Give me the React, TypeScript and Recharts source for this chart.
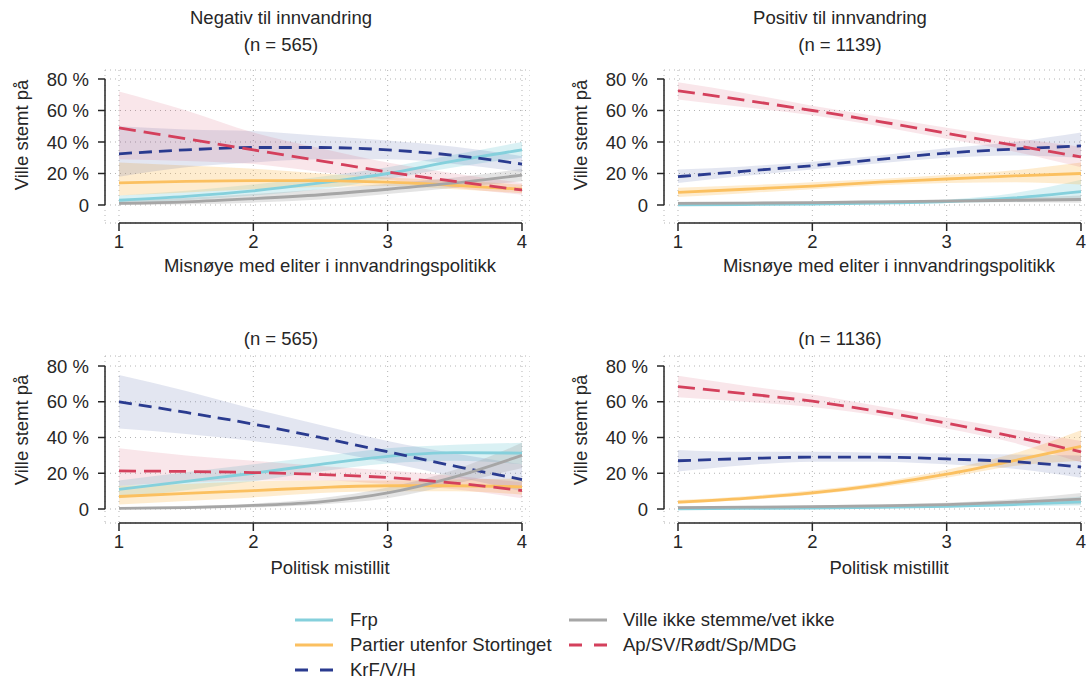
import {
  Area,
  CartesianGrid,
  ComposedChart,
  Line,
  ReferenceLine,
  XAxis,
  YAxis,
} from "recharts";

const FONT = '"Liberation Sans", Arial, Helvetica, sans-serif';
const INK = "#262626";

const xValues = [1, 1.5, 2, 2.5, 3, 3.5, 4];
const xTicks = [1, 2, 3, 4];
const yTicks = [0, 20, 40, 60, 80];

// every entry is [estimate, lower, upper] in percent, one per xValue

// Negativ til innvandring, misnøye med eliter
const negEliteFrp = [[3, 1, 6], [5.5, 3, 9], [9, 6, 13], [14, 10, 18], [20, 16.5, 24], [28, 24, 32], [35, 30, 40]];
const negElitePtu = [[14, 6, 27], [15, 8, 25], [15.5, 10, 23], [15.5, 11.5, 20], [14.5, 12, 17.5], [12.5, 10, 15.5], [10, 7.5, 13]];
const negEliteKrf = [[32.5, 18, 50], [35, 24, 48], [36.5, 27, 47], [36.5, 29, 44], [35, 29, 41], [31.5, 26, 37], [26, 21, 31]];
const negEliteVik = [[1, 0, 3], [2, 0.5, 4.5], [4, 1.5, 7], [6.5, 3.5, 10], [10, 7, 13.5], [14, 11, 17.5], [19, 15, 23]];
const negEliteAp = [[49, 29, 72], [42, 28, 60], [35, 26, 46], [28, 21, 36], [21, 16, 27], [15, 11, 20], [9.5, 6.5, 14]];

// Positiv til innvandring, misnøye med eliter
const posEliteFrp = [[0.1, 0, 0.5], [0.3, 0.1, 0.8], [0.6, 0.3, 1.2], [1.2, 0.7, 2], [2.2, 1.2, 3.5], [4.5, 2, 7.5], [8.5, 3, 16]];
const posElitePtu = [[8, 5, 11], [10, 7.5, 12.5], [12, 10, 14.5], [14.5, 12.5, 16.5], [16.5, 14, 19], [18.5, 14.5, 22], [20, 13, 27]];
const posEliteKrf = [[18, 14, 22.5], [21.5, 18.5, 24.5], [25, 22.5, 27.5], [29, 26.5, 31.5], [33, 30, 36], [35.5, 31.5, 40], [37.5, 30, 46]];
const posEliteVik = [[1, 0.3, 2], [1.2, 0.6, 2], [1.5, 0.9, 2.3], [2, 1.3, 2.8], [2.5, 1.6, 3.5], [3, 1.8, 4.5], [3.5, 1.5, 6]];
const posEliteAp = [[72.5, 67, 78], [66.5, 62, 71], [60, 57, 63], [53, 50, 56], [45.5, 42, 49], [38, 34, 42.5], [30.5, 24, 37]];

// Negativ til innvandring, politisk mistillit
const negTrustFrp = [[11, 6, 16], [15.5, 10.5, 20.5], [20, 15.5, 25], [25, 21, 29.5], [29.5, 25.5, 34], [31.5, 27, 36], [31.3, 25, 37]];
const negTrustPtu = [[7, 2.5, 13], [8.8, 4.5, 14], [10.3, 6.5, 15.5], [12, 9, 16], [13, 10, 16], [13, 10, 16.5], [12.4, 8, 17]];
const negTrustKrf = [[60, 45, 75], [54, 42, 66], [47.5, 38, 56], [40, 33, 47], [32, 26, 38], [24, 18, 31], [16.5, 10, 25]];
const negTrustVik = [[0.3, 0, 1], [0.8, 0.2, 1.8], [2, 0.8, 3], [4, 2.5, 6], [9, 6, 12], [18, 14, 22], [30, 23, 37]];
const negTrustAp = [[21.3, 13, 34], [21, 15, 30], [20.4, 16, 27], [19.3, 16, 24], [17.6, 14, 21.5], [14.5, 11, 18.5], [10.3, 6, 15]];

// Positiv til innvandring, politisk mistillit
const posTrustFrp = [[0.1, 0, 0.4], [0.3, 0.1, 0.6], [0.5, 0.2, 0.9], [0.9, 0.5, 1.4], [1.5, 0.9, 2.2], [2.5, 1.5, 4], [4, 2, 7]];
const posTrustPtu = [[3.8, 2.8, 5], [6, 5, 7.2], [9, 8, 10.5], [13.5, 12, 15], [19.5, 17.5, 22], [27, 24, 31], [35, 27, 44]];
const posTrustKrf = [[27, 21, 33], [28.2, 24.5, 32], [29, 26.5, 32], [29, 26.5, 31.5], [28, 25, 31], [26.5, 22.5, 30.5], [23.5, 17.5, 30]];
const posTrustVik = [[0.8, 0.3, 1.5], [1, 0.5, 1.7], [1.3, 0.8, 2], [1.8, 1.2, 2.6], [2.5, 1.8, 3.5], [3.8, 2.5, 5.5], [5.5, 2.5, 9]];
const posTrustAp = [[68.5, 62.5, 74.5], [64.5, 60, 69], [60.3, 57, 64], [54.5, 52, 57.5], [48, 45, 51], [40.5, 37, 44.5], [32, 26, 38]];

const seriesKeys = ["frp", "ptu", "krf", "vik", "ap"];
const seriesNames = [
  "Frp",
  "Partier utenfor Stortinget",
  "KrF/V/H",
  "Ville ikke stemme/vet ikke",
  "Ap/SV/Rødt/Sp/MDG",
];
const seriesColors = ["#85d0dc", "#fbc060", "#2a3b8f", "#a6a6a6", "#d4405c"];
const seriesDash = [undefined, undefined, "13 7", undefined, "17 8"];
const bandOpacity = [0.3, 0.3, 0.13, 0.3, 0.13];

function buildRows(groups: number[][][]) {
  return xValues.map((x, i) => {
    const row: Record<string, unknown> = { x };
    seriesKeys.forEach((key, s) => {
      const [est, lo, hi] = groups[s][i];
      row[key] = est;
      row[key + "Band"] = [lo, hi];
    });
    return row;
  });
}

const X_DOMAIN: [number, number] = [0.8958, 4.0596];
const FONT_SIZE = 18.5;
// room below the x axis so the tick labels are not clipped by the svg
const BOTTOM_PAD = 14;

const topRow = {
  top: 0,
  height: 250,
  marginTop: 70,
  yDomain: [-11.43, 85.71] as [number, number],
  titleY: [18, 45],
  xLabelY: 266,
  yLabelY: 135,
};
const bottomRow = {
  top: 290,
  height: 260,
  marginTop: 66,
  yDomain: [-7.83, 85.6] as [number, number],
  titleY: [339],
  xLabelY: 568,
  yLabelY: 430,
};

const textStyle = {
  position: "absolute" as const,
  fontFamily: FONT,
  fontSize: FONT_SIZE,
  color: INK,
  lineHeight: "22px",
  whiteSpace: "nowrap" as const,
};

function CenteredText({ x, y, children }: { x: number; y: number; children: string }) {
  return (
    <div style={{ ...textStyle, left: x - 250, top: y - 11, width: 500, textAlign: "center" }}>
      {children}
    </div>
  );
}

function Panel({
  groups,
  left,
  row,
  titles,
  xLabel,
}: {
  groups: number[][][];
  left: number;
  row: typeof topRow;
  titles: string[];
  xLabel: string;
}) {
  const data = buildRows(groups);
  const tickStyle = { fill: INK, fontSize: FONT_SIZE, fontFamily: FONT };
  return (
    <>
      {titles.map((t, i) => (
        <CenteredText key={t} x={left + 281} y={row.titleY[i]}>
          {t}
        </CenteredText>
      ))}
      <CenteredText x={left + 330} y={row.xLabelY}>
        {xLabel}
      </CenteredText>
      <div
        style={{
          ...textStyle,
          left: left + 22,
          top: row.yLabelY,
          transform: "translate(-50%, -50%) rotate(-90deg)",
        }}
      >
        Ville stemt på
      </div>
      <div style={{ position: "absolute", left, top: row.top }}>
        <ComposedChart
          width={530}
          height={row.height + BOTTOM_PAD}
          data={data}
          margin={{ top: row.marginTop, right: 0, bottom: BOTTOM_PAD, left: 45 }}
        >
          <CartesianGrid stroke="#b4b4b4" strokeDasharray="1 4" />
          <XAxis
            type="number"
            dataKey="x"
            domain={X_DOMAIN}
            ticks={xTicks}
            allowDataOverflow
            axisLine={false}
            tickSize={8}
            tickMargin={4}
            tickLine={{ stroke: INK, strokeWidth: 1.5 }}
            tick={tickStyle}
            height={27}
          />
          <YAxis
            type="number"
            domain={row.yDomain}
            ticks={yTicks}
            allowDataOverflow
            axisLine={false}
            width={60}
            tickSize={7}
            tickMargin={9}
            tickLine={{ stroke: INK, strokeWidth: 1.5 }}
            tick={tickStyle}
            tickFormatter={(v: number) => (v === 0 ? "0" : `${v} %`)}
          />
          <ReferenceLine
            segment={[
              { x: 1, y: row.yDomain[0] },
              { x: 4, y: row.yDomain[0] },
            ]}
            stroke={INK}
            strokeWidth={1.5}
            ifOverflow="visible"
          />
          <ReferenceLine
            segment={[
              { x: X_DOMAIN[0], y: 0 },
              { x: X_DOMAIN[0], y: 80 },
            ]}
            stroke={INK}
            strokeWidth={1.5}
            ifOverflow="visible"
          />
          {seriesKeys.map((key, s) => (
            <Area
              key={key + "Band"}
              dataKey={key + "Band"}
              type="monotone"
              stroke="none"
              fill={seriesColors[s]}
              fillOpacity={bandOpacity[s]}
              activeDot={false}
              isAnimationActive={false}
            />
          ))}
          {seriesKeys.map((key, s) => (
            <Line
              key={key}
              dataKey={key}
              type="monotone"
              stroke={seriesColors[s]}
              strokeWidth={2.8}
              strokeDasharray={seriesDash[s]}
              dot={false}
              activeDot={false}
              isAnimationActive={false}
            />
          ))}
        </ComposedChart>
      </div>
    </>
  );
}

const legendColumns = [
  { sampleX: 295, textX: 350, items: [0, 1, 2] },
  { sampleX: 569, textX: 623, items: [3, 4] },
];
const legendRowY = [620, 645, 670];

function Legend() {
  return (
    <>
      {legendColumns.map((col) =>
        col.items.map((s, r) => (
          <div key={s}>
            <svg
              width={38}
              height={6}
              style={{ position: "absolute", left: col.sampleX, top: legendRowY[r] - 3 }}
            >
              <line
                x1={0}
                y1={3}
                x2={38}
                y2={3}
                stroke={seriesColors[s]}
                strokeWidth={3}
                strokeDasharray={seriesDash[s] ? "13 12" : undefined}
              />
            </svg>
            <div style={{ ...textStyle, left: col.textX, top: legendRowY[r] - 11 }}>
              {seriesNames[s]}
            </div>
          </div>
        ))
      )}
    </>
  );
}

export default function App() {
  return (
    <div
      style={{
        position: "absolute",
        left: 0,
        top: 0,
        width: 1087,
        height: 683,
        overflow: "hidden",
        background: "#fff",
      }}
    >
      <Panel
        groups={[negEliteFrp, negElitePtu, negEliteKrf, negEliteVik, negEliteAp]}
        left={0}
        row={topRow}
        titles={["Negativ til innvandring", "(n = 565)"]}
        xLabel="Misnøye med eliter i innvandringspolitikk"
      />
      <Panel
        groups={[posEliteFrp, posElitePtu, posEliteKrf, posEliteVik, posEliteAp]}
        left={559}
        row={topRow}
        titles={["Positiv til innvandring", "(n = 1139)"]}
        xLabel="Misnøye med eliter i innvandringspolitikk"
      />
      <Panel
        groups={[negTrustFrp, negTrustPtu, negTrustKrf, negTrustVik, negTrustAp]}
        left={0}
        row={bottomRow}
        titles={["(n = 565)"]}
        xLabel="Politisk mistillit"
      />
      <Panel
        groups={[posTrustFrp, posTrustPtu, posTrustKrf, posTrustVik, posTrustAp]}
        left={559}
        row={bottomRow}
        titles={["(n = 1136)"]}
        xLabel="Politisk mistillit"
      />
      <Legend />
    </div>
  );
}
